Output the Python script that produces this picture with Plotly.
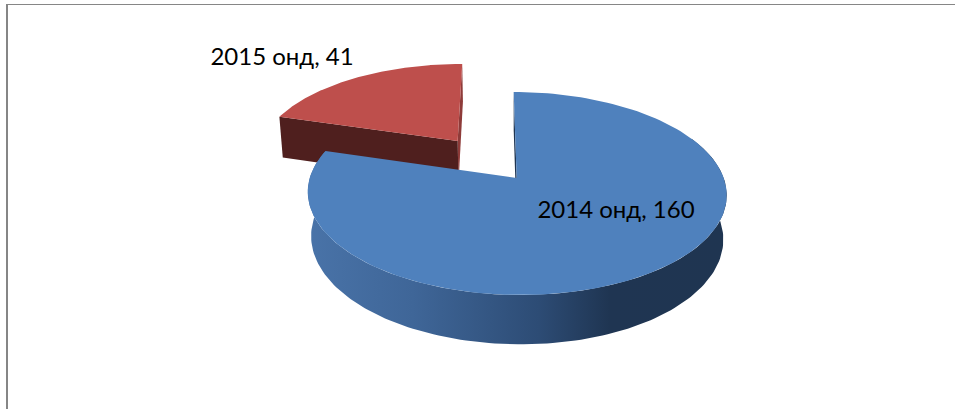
import numpy as np
import plotly.graph_objects as go

# Data
labels = ["2014 онд", "2015 онд"]
values = [160, 41]
top_colors = ["#4F81BD", "#BE4F4C"]
explode = [0.0, 0.495]

# 3D view of the pie in page pixels
APEX_X, APEX_Y = 516.7, 178
SCALE_X, SCALE_Y = 207, 99.1
PERSPECTIVE = 0.1527
SHEAR = 0.035
DEPTH = 44.5
BOTTOM_SHRINK = 0.016


def project(u, v, bottom=False):
    w = 1 + PERSPECTIVE * v
    if bottom:
        w = w + BOTTOM_SHRINK
    x = APEX_X + SCALE_X * u / w + SHEAR * (-SCALE_Y * v / w)
    y = APEX_Y + (-SCALE_Y * v + (DEPTH if bottom else 0)) / w
    return x, y


def arc(t0, t1, off, bottom=False):
    t = np.linspace(t0, t1, 160)
    return project(off[0] + np.sin(t), off[1] + np.cos(t), bottom)


def polygon(color, x, y, gradient=None):
    return go.Scatter(
        x=np.append(x, x[0]), y=np.append(y, y[0]), mode="lines", fill="toself",
        fillcolor=color, fillgradient=gradient, line=dict(width=0), hoverinfo="skip",
        showlegend=False,
    )


# slice angles clockwise from the top, the first slice starts at 12 o'clock
shares = np.array(values) / sum(values) * 2 * np.pi
ends = np.cumsum(shares)
starts = ends - shares
t0_blue, t1_blue = starts[0], ends[0]
t0_red, t1_red = starts[1], ends[1]

mid_red = (t0_red + t1_red) / 2
off_red = (explode[1] * np.sin(mid_red), explode[1] * np.cos(mid_red))
off_blue = (0.0, 0.0)

fig = go.Figure()

# red slice: right edge sliver, cut face, top
ax, ay = project(off_red[0], off_red[1])
bx, by = project(off_red[0], off_red[1], True)
ex, ey = arc(t1_red, t1_red, off_red)
ebx, eby = arc(t1_red, t1_red, off_red, True)
fig.add_trace(polygon("#8E3B39", [ax, ex[0], ebx[0], bx], [ay, ey[0], eby[0], by]))
lx, ly = arc(t0_red, t0_red, off_red)
lbx, lby = arc(t0_red, t0_red, off_red, True)
fig.add_trace(polygon("#4F1F1E", [ax, lx[0], lbx[0], bx], [ay, ly[0], lby[0], by]))
x, y = arc(t0_red, t1_red, off_red)
fig.add_trace(polygon(top_colors[1], np.r_[ax, x], np.r_[ay, y]))

# blue slice: rim with the light falling off to the right
x_top, y_top = arc(np.radians(65), t1_blue, off_blue)
x_bot, y_bot = arc(np.radians(65), t1_blue, off_blue, True)
rim = dict(
    type="horizontal", start=308, stop=727,
    colorscale=[[0, "#4973A8"], [0.25, "#3F6698"], [0.55, "#2D4C75"], [0.72, "#1F3552"], [1, "#1F3551"]],
)
fig.add_trace(polygon("#2B4A72", np.r_[x_top, x_bot[::-1]], np.r_[y_top, y_bot[::-1]], rim))

# blue cut face at 12 o'clock, only a dark sliver shows
ax, ay = project(0, 0)
bx, by = project(0, 0, True)
ex, ey = arc(0, 0, off_blue)
ebx, eby = arc(0, 0, off_blue, True)
fig.add_trace(polygon("#1F3552", [ax, ex[0], ebx[0], bx], [ay, ey[0], eby[0], by]))

x, y = arc(t0_blue, t1_blue, off_blue)
fig.add_trace(polygon(top_colors[0], np.r_[ax, x], np.r_[ay, y]))

# data labels
label_x = [616, 282]
label_y = [212, 59]
fig.add_trace(go.Scatter(
    x=label_x, y=label_y, mode="text",
    text=[f"{n}, {v}" for n, v in zip(labels, values)],
    textposition="middle center",
    textfont=dict(family="Lato, Open Sans", size=24, color="#000000"),
    hoverinfo="skip", showlegend=False,
))

fig.update_layout(
    width=955,
    height=409,
    margin=dict(l=0, r=0, t=0, b=0),
    paper_bgcolor="white",
    plot_bgcolor="white",
    xaxis=dict(range=[0, 955], visible=False, fixedrange=True),
    yaxis=dict(range=[409, 0], visible=False, fixedrange=True),
    shapes=[
        dict(type="line", x0=7, x1=7, y0=4, y1=409, line=dict(color="#868686", width=2)),
        dict(type="line", x0=6, x1=955, y0=4.5, y1=4.5, line=dict(color="#868686", width=1)),
    ],
)

fig.write_html("out.html", config=dict(displayModeBar=False), post_script="document.body.style.margin='0';")
